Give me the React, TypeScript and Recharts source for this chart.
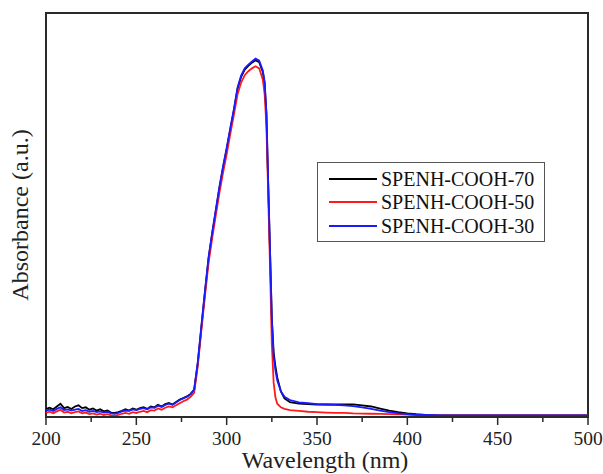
import React from 'react';
import { LineChart, Line, XAxis, YAxis, ReferenceArea } from 'recharts';

const wavelengths = [
  200, 202, 204, 206, 208, 210, 212, 214, 216, 218, 220, 222, 224, 226, 228, 230, 232, 234, 236, 238,
  240, 242, 244, 246, 248, 250, 252, 254, 256, 258, 260, 262, 264, 266, 268, 270, 272, 274, 276, 278, 280,
  282, 284, 286, 288, 290, 292, 294, 296, 298, 300, 302, 304, 306, 308, 310, 312, 314, 316, 318, 320,
  321, 322, 323, 324, 325, 326, 327, 328, 330, 332, 335, 340, 345, 350, 355, 360, 365, 370, 375, 380,
  385, 390, 395, 400, 405, 410, 415, 420, 425, 430, 440, 450, 460, 470, 480, 490, 500,
];

const cooh70 = [
  2.0, 2.3, 1.9, 2.6, 3.3, 2.2, 2.5, 2.0, 2.6, 2.9, 2.2, 2.4, 1.8, 2.1, 1.6, 1.9, 1.4, 1.6, 1.1, 1.0,
  1.2, 1.5, 1.9, 1.6, 2.1, 1.8, 2.2, 2.4, 2.0, 2.6, 2.4, 3.0, 2.6, 3.2, 3.5, 3.1, 3.7, 4.3, 4.7, 5.1, 5.7,
  6.7, 13.3, 22.2, 31.0, 39.3, 45.4, 51.0, 56.7, 61.7, 66.3, 71.2, 75.9, 81.2, 84.2, 86.0, 86.9, 87.7, 88.3, 87.8, 85.4,
  82.6, 75.0, 57.5, 41.0, 24.5, 16.0, 12.5, 9.8, 6.3, 4.6, 3.7, 3.3, 3.2, 3.1, 3.1, 3.1, 3.1, 3.1, 2.9, 2.6,
  2.1, 1.6, 1.2, 0.9, 0.7, 0.55, 0.45, 0.4, 0.4, 0.4, 0.4, 0.4, 0.4, 0.4, 0.4, 0.4, 0.4,
];

const cooh50 = [
  1.0, 1.3, 0.9, 1.4, 1.8, 1.1, 1.3, 0.9, 1.2, 1.4, 0.9, 1.1, 0.7, 0.9, 0.6, 0.8, 0.5, 0.7, 0.4, 0.3,
  0.5, 0.8, 1.0, 0.8, 1.2, 1.0, 1.3, 1.5, 1.2, 1.7, 1.6, 2.1, 1.8, 2.3, 2.6, 2.4, 2.9, 3.4, 3.9, 4.3, 5.0,
  6.0, 12.5, 21.5, 30.0, 38.2, 44.3, 50.0, 55.5, 60.5, 65.0, 70.0, 74.8, 79.8, 82.8, 84.6, 85.6, 86.3, 86.8, 86.3, 83.5,
  80.0, 72.0, 55.0, 37.0, 18.0, 8.5, 4.8, 3.3, 2.4, 2.0, 1.7, 1.5, 1.3, 1.2, 1.1, 1.0, 1.0, 0.9, 0.85, 0.8,
  0.75, 0.7, 0.65, 0.6, 0.5, 0.45, 0.4, 0.4, 0.4, 0.4, 0.4, 0.4, 0.4, 0.4, 0.4, 0.4, 0.4,
];

const cooh30 = [
  1.6, 1.8, 1.5, 2.0, 2.4, 1.7, 1.9, 1.6, 1.8, 2.0, 1.5, 1.7, 1.3, 1.5, 1.2, 1.4, 1.1, 1.3, 0.9, 0.8,
  1.0, 1.4, 1.6, 1.5, 1.9, 1.7, 2.0, 2.2, 1.9, 2.4, 2.3, 2.8, 2.5, 3.0, 3.3, 3.0, 3.6, 4.2, 4.6, 5.0, 5.6,
  6.8, 13.5, 22.5, 31.3, 39.6, 45.7, 51.3, 57.0, 62.0, 66.6, 71.5, 76.2, 81.5, 84.5, 86.3, 87.2, 88.0, 88.7, 88.2, 85.8,
  83.0, 75.5, 57.8, 41.2, 24.0, 15.0, 11.5, 9.0, 6.4, 5.0, 4.2, 3.6, 3.4, 3.2, 3.1, 3.0, 2.9, 2.7, 2.4, 2.0,
  1.6, 1.2, 0.9, 0.7, 0.55, 0.5, 0.45, 0.4, 0.4, 0.4, 0.4, 0.4, 0.4, 0.4, 0.4, 0.4, 0.4,
];

const xTicks = [200, 225, 250, 275, 300, 325, 350, 375, 400, 425, 450, 475, 500];
const seriesKeys = ['s70', 's50', 's30'];
const seriesNames = ['SPENH-COOH-70', 'SPENH-COOH-50', 'SPENH-COOH-30'];
const seriesColors = ['#000000', '#ff1a1a', '#1a1aff'];

const data = wavelengths.map((w, i) => ({
  w,
  s70: cooh70[i],
  s50: cooh50[i],
  s30: cooh30[i],
}));

const FONT = '"Liberation Serif", "Times New Roman", serif';
const FRAME = '#2a2a2a';

const XTick = (props: any) => {
  const { x, y, payload } = props;
  const major = payload.value % 50 === 0;
  return (
    <g>
      <line x1={x} x2={x} y1={y} y2={y + (major ? 8 : 5)} stroke={FRAME} strokeWidth={1.5} />
      {major && (
        <text x={x} y={y + 28} textAnchor="middle" fontFamily={FONT} fontSize={19.5} fill="#222">
          {payload.value}
        </text>
      )}
    </g>
  );
};

export default function App() {
  return (
    <div style={{ position: 'absolute', left: 0, top: 0, width: 603, height: 474, background: '#fff' }}>
      <LineChart
        width={603}
        height={474}
        data={data}
        margin={{ top: 13, right: 15, left: 46, bottom: 0 }}
      >
        <XAxis
          dataKey="w"
          type="number"
          domain={[200, 500]}
          ticks={xTicks}
          interval={0}
          allowDataOverflow
          height={57}
          tickSize={0}
          tickMargin={0}
          tickLine={false}
          tick={<XTick />}
          axisLine={{ stroke: FRAME, strokeWidth: 2 }}
        />
        <YAxis type="number" domain={[0, 100]} hide allowDataOverflow />
        <ReferenceArea
          x1={200}
          x2={500}
          y1={0}
          y2={100}
          fill="none"
          fillOpacity={0}
          stroke={FRAME}
          strokeWidth={2}
          ifOverflow="visible"
        />
        {seriesKeys.map((k, i) => (
          <Line
            key={k}
            type="linear"
            dataKey={k}
            name={seriesNames[i]}
            stroke={seriesColors[i]}
            strokeWidth={1.8}
            dot={false}
            isAnimationActive={false}
          />
        ))}
      </LineChart>
      <div
        style={{
          position: 'absolute',
          left: 317,
          top: 162,
          width: 228,
          border: '1px solid #555',
          background: '#fff',
          padding: '4px 0 3px 11px',
          boxSizing: 'border-box',
          fontFamily: FONT,
          fontSize: 20,
          color: '#111',
        }}
      >
        {seriesNames.map((n, i) => (
          <div key={n} style={{ display: 'flex', alignItems: 'center', height: 23.5 }}>
            <svg width={48} height={4} style={{ marginRight: 4 }}>
              <line x1={0} x2={48} y1={2} y2={2} stroke={seriesColors[i]} strokeWidth={2} />
            </svg>
            <span style={{ lineHeight: '20px' }}>{n}</span>
          </div>
        ))}
      </div>
      <div
        style={{
          position: 'absolute',
          left: 0,
          width: 650,
          top: 446,
          textAlign: 'center',
          fontFamily: FONT,
          fontSize: 24,
          color: '#222',
          lineHeight: '28px',
        }}
      >
        Wavelength (nm)
      </div>
      <div
        style={{
          position: 'absolute',
          left: 20,
          top: 215,
          transform: 'translate(-50%, -50%) rotate(-90deg)',
          whiteSpace: 'nowrap',
          fontFamily: FONT,
          fontSize: 24,
          color: '#222',
          lineHeight: '28px',
        }}
      >
        Absorbance (a.u.)
      </div>
    </div>
  );
}
